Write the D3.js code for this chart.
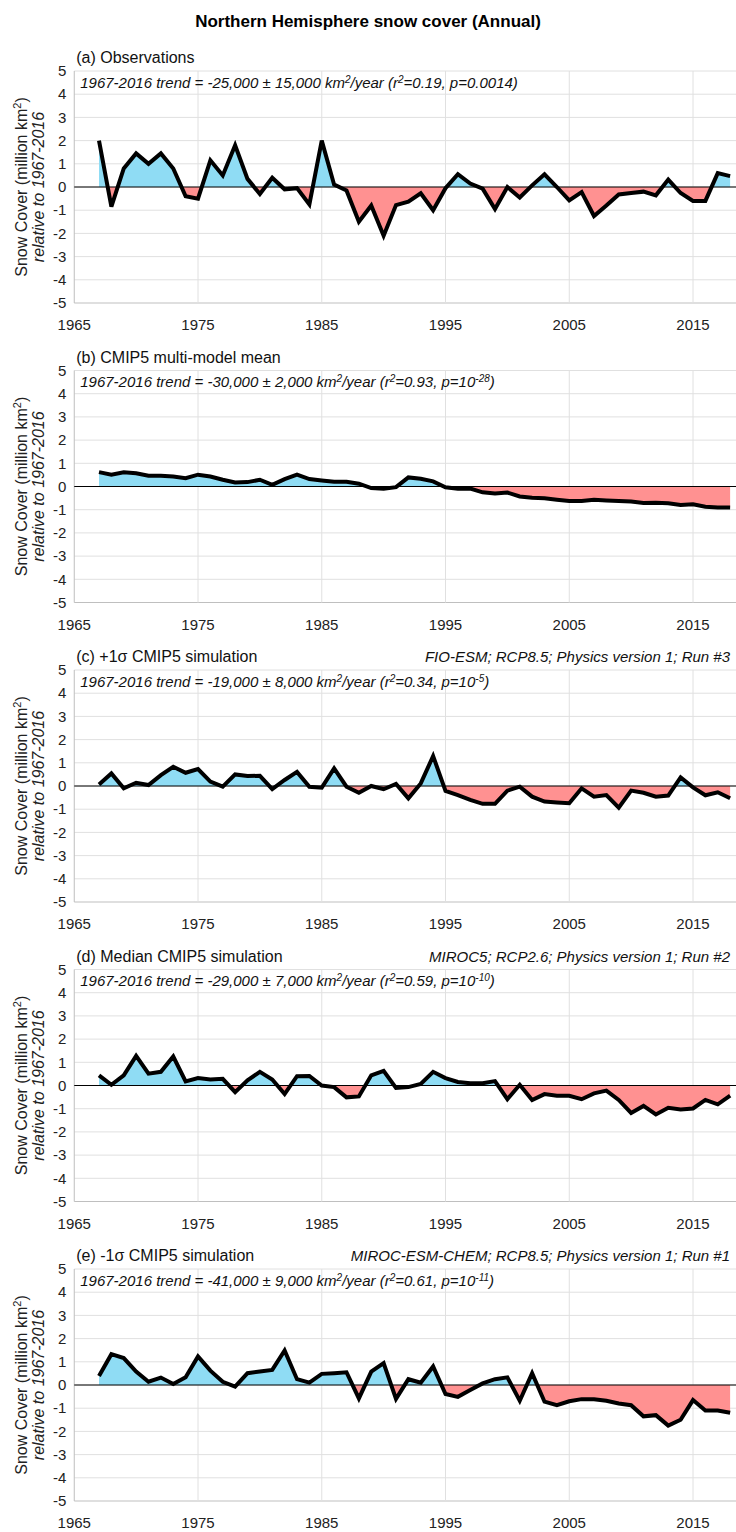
<!DOCTYPE html>
<html>
<head>
<meta charset="utf-8">
<script src="https://cdn.jsdelivr.net/npm/d3@7"></script>
<style>
  body { margin: 0; background: #fff; }
  svg { display: block; font-family: "Liberation Sans", Arial, sans-serif; }
</style>
</head>
<body>
<svg id="chart" width="736" height="1532"></svg>
<script>
// years 1967-2018, anomalies in million km2 relative to 1967-2016
var years = d3.range(1967, 2019);
var xTicks = [1965, 1975, 1985, 1995, 2005, 2015];
var yTicks = [5, 4, 3, 2, 1, 0, -1, -2, -3, -4, -5];

var obs = [2.0, -0.85, 0.8, 1.45, 1.0, 1.45, 0.8, -0.4, -0.5, 1.15,
  0.5, 1.8, 0.35, -0.3, 0.4, -0.1, -0.05, -0.75, 2.0, 0.1,
  -0.15, -1.5, -0.8, -2.1, -0.78, -0.63, -0.27, -1.0, -0.05, 0.55,
  0.15, -0.07, -0.95, 0.0, -0.45, 0.07, 0.55, 0.0, -0.58, -0.22,
  -1.25, -0.8, -0.32, -0.26, -0.2, -0.36, 0.32, -0.26, -0.6, -0.6,
  0.6, 0.47];
var mmm = [0.62, 0.51, 0.61, 0.57, 0.46, 0.46, 0.43, 0.36, 0.51, 0.43,
  0.29, 0.17, 0.19, 0.29, 0.07, 0.32, 0.51, 0.32, 0.26, 0.2,
  0.2, 0.12, -0.07, -0.1, -0.03, 0.39, 0.33, 0.22, -0.03, -0.1,
  -0.09, -0.25, -0.3, -0.26, -0.43, -0.48, -0.51, -0.57, -0.62, -0.62,
  -0.57, -0.6, -0.62, -0.65, -0.71, -0.7, -0.72, -0.8, -0.77, -0.87,
  -0.9, -0.91];
var plus1 = [0.07, 0.54, -0.1, 0.14, 0.04, 0.47, 0.83, 0.57, 0.73, 0.19,
  -0.03, 0.5, 0.43, 0.44, -0.13, 0.26, 0.61, -0.03, -0.07, 0.76,
  -0.03, -0.29, 0.0, -0.14, 0.09, -0.53, 0.11, 1.29, -0.21, -0.39,
  -0.6, -0.77, -0.77, -0.2, -0.03, -0.46, -0.67, -0.71, -0.74, -0.1,
  -0.46, -0.39, -0.93, -0.2, -0.29, -0.46, -0.41, 0.37, -0.06, -0.4,
  -0.27, -0.53];
var median = [0.44, 0.03, 0.44, 1.28, 0.51, 0.59, 1.25, 0.18, 0.32, 0.26,
  0.29, -0.29, 0.22, 0.59, 0.26, -0.37, 0.4, 0.41, 0.0, -0.07,
  -0.51, -0.47, 0.44, 0.63, -0.1, -0.07, 0.07, 0.59, 0.32, 0.15,
  0.1, 0.1, 0.19, -0.59, 0.03, -0.63, -0.37, -0.44, -0.44, -0.59,
  -0.34, -0.22, -0.62, -1.18, -0.88, -1.25, -0.96, -1.03, -0.99, -0.62,
  -0.81, -0.44];
var minus1 = [0.39, 1.33, 1.16, 0.58, 0.14, 0.32, 0.04, 0.33, 1.23, 0.62,
  0.14, -0.07, 0.51, 0.58, 0.65, 1.49, 0.25, 0.1, 0.48, 0.51,
  0.55, -0.58, 0.58, 0.94, -0.6, 0.25, 0.1, 0.8, -0.39, -0.51,
  -0.22, 0.07, 0.25, 0.33, -0.68, 0.51, -0.72, -0.87, -0.7, -0.61,
  -0.61, -0.68, -0.8, -0.87, -1.35, -1.3, -1.75, -1.5, -0.65, -1.1,
  -1.1, -1.2];

var series = [obs, mmm, plus1, median, minus1];
var panelTitles = ["(a) Observations", "(b) CMIP5 multi-model mean", "(c) +1\u03c3 CMIP5 simulation",
  "(d) Median CMIP5 simulation", "(e) -1\u03c3 CMIP5 simulation"];
var panelModels = ["", "", "FIO-ESM; RCP8.5; Physics version 1; Run #3",
  "MIROC5; RCP2.6; Physics version 1; Run #2", "MIROC-ESM-CHEM; RCP8.5; Physics version 1; Run #1"];
var trends = ["-25,000 \u00b1 15,000", "-30,000 \u00b1 2,000", "-19,000 \u00b1 8,000", "-29,000 \u00b1 7,000", "-41,000 \u00b1 9,000"];
var r2 = ["0.19", "0.93", "0.34", "0.59", "0.61"];
var pBase = ["0.0014", "10", "10", "10", "10"];
var pExp = ["", "-28", "-5", "-10", "-11"];

var svg = d3.select("#chart"),
    left = 74.25,
    right = 742.5,
    zero0 = 187,
    panelStep = 299.5,
    halfH = 116;

var x = d3.scaleLinear().domain([1965, 2019]).range([left, right]);

svg.append("text")
    .attr("x", 368)
    .attr("y", 27)
    .attr("text-anchor", "middle")
    .attr("font-weight", "bold")
    .style("font-size", "17px")
    .text("Northern Hemisphere snow cover (Annual)");

series.forEach(function(vals, i) {
    var zy = zero0 + i * panelStep;
    var y = d3.scaleLinear().domain([-5, 5]).range([zy + halfH, zy - halfH]);
    var g = svg.append("g").attr("class", "panel");
    var data = years.map(function(yr, j) { return {year: yr, value: vals[j]}; });

    // grid
    g.append("g").selectAll("line.h")
        .data(yTicks)
        .enter().append("line")
        .attr("x1", left).attr("x2", right)
        .attr("y1", function(d) { return y(d); })
        .attr("y2", function(d) { return y(d); })
        .attr("stroke", function(d) { return d == -5 ? "#bfbfbf" : "#e0e0e0"; })
        .attr("stroke-width", 1);

    g.append("g").selectAll("line.v")
        .data(xTicks)
        .enter().append("line")
        .attr("x1", function(d) { return x(d); })
        .attr("x2", function(d) { return x(d); })
        .attr("y1", y(5)).attr("y2", y(-5))
        .attr("stroke", function(d) { return d == 1965 ? "#bfbfbf" : "#e0e0e0"; })
        .attr("stroke-width", 1);

    // tick labels
    g.append("g").selectAll("text")
        .data(yTicks)
        .enter().append("text")
        .attr("x", left - 8)
        .attr("y", function(d) { return y(d); })
        .attr("dy", "0.35em")
        .attr("text-anchor", "end")
        .style("font-size", "15px")
        .attr("fill", "#222")
        .text(function(d) { return d; });

    g.append("g").selectAll("text")
        .data(xTicks)
        .enter().append("text")
        .attr("x", function(d) { return x(d); })
        .attr("y", y(-5) + 27)
        .attr("text-anchor", "middle")
        .style("font-size", "15px")
        .attr("fill", "#222")
        .text(function(d) { return d; });

    // y title
    var yt = g.append("text")
        .attr("transform", "translate(" + 27 + "," + zy + ") rotate(-90)")
        .attr("text-anchor", "middle")
        .style("font-size", "16px")
        .attr("fill", "#222");
    yt.append("tspan").text("Snow Cover (million km");
    yt.append("tspan").attr("baseline-shift", "super").style("font-size", "11px").text("2");
    yt.append("tspan").text(")");
    g.append("text")
        .attr("transform", "translate(" + 44 + "," + zy + ") rotate(-90)")
        .attr("text-anchor", "middle")
        .attr("font-style", "italic")
        .style("font-size", "16px")
        .attr("fill", "#222")
        .text("relative to 1967-2016");

    // filled anomaly areas
    var area = d3.area()
        .x(function(d) { return x(d.year); })
        .y0(y(0))
        .y1(function(d) { return y(d.value); });

    var clipUp = "clipUp" + i, clipDn = "clipDn" + i;
    var defs = g.append("defs");
    defs.append("clipPath").attr("id", clipUp).append("rect")
        .attr("x", left).attr("y", y(5)).attr("width", right - left).attr("height", y(0) - y(5));
    defs.append("clipPath").attr("id", clipDn).append("rect")
        .attr("x", left).attr("y", y(0)).attr("width", right - left).attr("height", y(-5) - y(0));

    g.append("path").datum(data)
        .attr("d", area)
        .attr("fill", "#8fdcf4")
        .attr("clip-path", "url(#" + clipUp + ")");
    g.append("path").datum(data)
        .attr("d", area)
        .attr("fill", "#ff9191")
        .attr("clip-path", "url(#" + clipDn + ")");

    // zero line
    g.append("line")
        .attr("x1", left).attr("x2", right)
        .attr("y1", y(0)).attr("y2", y(0))
        .attr("stroke", "#000").attr("stroke-width", 1.2);

    g.append("path").datum(data)
        .attr("d", d3.line().x(function(d) { return x(d.year); }).y(function(d) { return y(d.value); }))
        .attr("fill", "none")
        .attr("stroke", "#000")
        .attr("stroke-width", 4)
        .attr("stroke-linejoin", "miter");

    // panel titles
    g.append("text")
        .attr("x", left + 2)
        .attr("y", y(5) - 8)
        .style("font-size", "16px")
        .attr("fill", "#111")
        .text(panelTitles[i]);

    if (panelModels[i]) {
        g.append("text")
            .attr("x", 730)
            .attr("y", y(5) - 8)
            .attr("text-anchor", "end")
            .attr("font-style", "italic")
            .style("font-size", "15px")
            .attr("fill", "#111")
            .text(panelModels[i]);
    }

    var tt = g.append("text")
        .attr("x", left + 6)
        .attr("y", y(4.5) + 5)
        .attr("font-style", "italic")
        .style("font-size", "15px")
        .attr("fill", "#111");
    tt.append("tspan").text("1967-2016 trend = " + trends[i] + " km");
    tt.append("tspan").attr("baseline-shift", "super").style("font-size", "10px").text("2");
    tt.append("tspan").text("/year (r");
    tt.append("tspan").attr("baseline-shift", "super").style("font-size", "10px").text("2");
    tt.append("tspan").text("=" + r2[i] + ", p=" + pBase[i]);
    if (pExp[i]) {
        tt.append("tspan").attr("baseline-shift", "super").style("font-size", "10px").text(pExp[i]);
    }
    tt.append("tspan").text(")");
});
</script>
</body>
</html>
